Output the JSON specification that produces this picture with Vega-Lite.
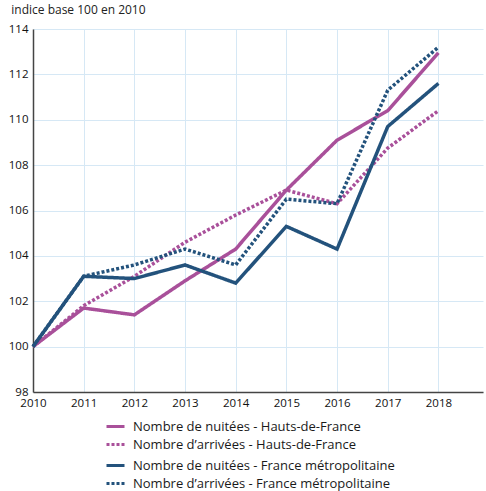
{
  "$schema": "https://vega.github.io/schema/vega-lite/v6.json",
  "width": 450,
  "height": 363,
  "padding": {"left": 8, "top": 4, "right": 2, "bottom": 0},
  "background": "white",
  "title": {
    "text": "indice base 100 en 2010",
    "anchor": "start",
    "frame": "bounds",
    "fontSize": 12,
    "fontWeight": "normal",
    "font": "Open Sans",
    "color": "#222222",
    "offset": 6,
    "dx": 3
  },
  "datasets": {
    "hdf": [
      {"annee": 2010, "serie": "Nombre de nuitées - Hauts-de-France", "indice": 100},
      {"annee": 2011, "serie": "Nombre de nuitées - Hauts-de-France", "indice": 101.7},
      {"annee": 2012, "serie": "Nombre de nuitées - Hauts-de-France", "indice": 101.4},
      {"annee": 2013, "serie": "Nombre de nuitées - Hauts-de-France", "indice": 102.9},
      {"annee": 2014, "serie": "Nombre de nuitées - Hauts-de-France", "indice": 104.3},
      {"annee": 2015, "serie": "Nombre de nuitées - Hauts-de-France", "indice": 106.9},
      {"annee": 2016, "serie": "Nombre de nuitées - Hauts-de-France", "indice": 109.1},
      {"annee": 2017, "serie": "Nombre de nuitées - Hauts-de-France", "indice": 110.4},
      {"annee": 2018, "serie": "Nombre de nuitées - Hauts-de-France", "indice": 112.95},
      {"annee": 2010, "serie": "Nombre d’arrivées - Hauts-de-France", "indice": 100},
      {"annee": 2011, "serie": "Nombre d’arrivées - Hauts-de-France", "indice": 101.8},
      {"annee": 2012, "serie": "Nombre d’arrivées - Hauts-de-France", "indice": 103.1},
      {"annee": 2013, "serie": "Nombre d’arrivées - Hauts-de-France", "indice": 104.6},
      {"annee": 2014, "serie": "Nombre d’arrivées - Hauts-de-France", "indice": 105.8},
      {"annee": 2015, "serie": "Nombre d’arrivées - Hauts-de-France", "indice": 106.9},
      {"annee": 2016, "serie": "Nombre d’arrivées - Hauts-de-France", "indice": 106.3},
      {"annee": 2017, "serie": "Nombre d’arrivées - Hauts-de-France", "indice": 108.75},
      {"annee": 2018, "serie": "Nombre d’arrivées - Hauts-de-France", "indice": 110.4}
    ],
    "fr": [
      {"annee": 2010, "serie": "Nombre de nuitées - France métropolitaine", "indice": 100},
      {"annee": 2011, "serie": "Nombre de nuitées - France métropolitaine", "indice": 103.1},
      {"annee": 2012, "serie": "Nombre de nuitées - France métropolitaine", "indice": 103.0},
      {"annee": 2013, "serie": "Nombre de nuitées - France métropolitaine", "indice": 103.6},
      {"annee": 2014, "serie": "Nombre de nuitées - France métropolitaine", "indice": 102.8},
      {"annee": 2015, "serie": "Nombre de nuitées - France métropolitaine", "indice": 105.3},
      {"annee": 2016, "serie": "Nombre de nuitées - France métropolitaine", "indice": 104.3},
      {"annee": 2017, "serie": "Nombre de nuitées - France métropolitaine", "indice": 109.7},
      {"annee": 2018, "serie": "Nombre de nuitées - France métropolitaine", "indice": 111.6},
      {"annee": 2010, "serie": "Nombre d’arrivées - France métropolitaine", "indice": 100},
      {"annee": 2011, "serie": "Nombre d’arrivées - France métropolitaine", "indice": 103.1},
      {"annee": 2012, "serie": "Nombre d’arrivées - France métropolitaine", "indice": 103.6},
      {"annee": 2013, "serie": "Nombre d’arrivées - France métropolitaine", "indice": 104.3},
      {"annee": 2014, "serie": "Nombre d’arrivées - France métropolitaine", "indice": 103.6},
      {"annee": 2015, "serie": "Nombre d’arrivées - France métropolitaine", "indice": 106.5},
      {"annee": 2016, "serie": "Nombre d’arrivées - France métropolitaine", "indice": 106.3},
      {"annee": 2017, "serie": "Nombre d’arrivées - France métropolitaine", "indice": 111.3},
      {"annee": 2018, "serie": "Nombre d’arrivées - France métropolitaine", "indice": 113.2}
    ]
  },
  "encoding": {
    "x": {
      "field": "annee",
      "type": "quantitative",
      "scale": {"domain": [2010, 2018.88], "nice": false, "zero": false},
      "axis": {
        "title": null,
        "values": [2010, 2011, 2012, 2013, 2014, 2015, 2016, 2017, 2018],
        "format": "d",
        "ticks": false,
        "labelPadding": 5,
        "labelFlush": false
      }
    },
    "y": {
      "field": "indice",
      "type": "quantitative",
      "scale": {"domain": [98, 114], "nice": false, "zero": false},
      "axis": {
        "title": null,
        "values": [98, 100, 102, 104, 106, 108, 110, 112, 114],
        "ticks": false,
        "labelPadding": 5
      }
    }
  },
  "layer": [
    {
      "data": {"name": "hdf"},
      "mark": {"type": "line", "strokeWidth": 3.5, "strokeCap": "butt", "strokeJoin": "miter"},
      "encoding": {
        "color": {
          "field": "serie",
          "type": "nominal",
          "scale": {
            "domain": ["Nombre de nuitées - Hauts-de-France", "Nombre d’arrivées - Hauts-de-France"],
            "range": ["#a9509a", "#a9509a"]
          },
          "legend": {"title": null, "orient": "none", "legendX": 72, "legendY": 387}
        },
        "strokeDash": {
          "field": "serie",
          "type": "nominal",
          "scale": {
            "domain": ["Nombre de nuitées - Hauts-de-France", "Nombre d’arrivées - Hauts-de-France"],
            "range": [[1, 0], [3, 2]]
          },
          "legend": {"title": null, "orient": "none", "legendX": 72, "legendY": 387}
        }
      }
    },
    {
      "data": {"name": "fr"},
      "mark": {"type": "line", "strokeWidth": 3.5, "strokeCap": "butt", "strokeJoin": "miter"},
      "encoding": {
        "color": {
          "field": "serie",
          "type": "nominal",
          "scale": {
            "domain": ["Nombre de nuitées - France métropolitaine", "Nombre d’arrivées - France métropolitaine"],
            "range": ["#23527c", "#23527c"]
          },
          "legend": {"title": null, "orient": "none", "legendX": 72, "legendY": 426}
        },
        "strokeDash": {
          "field": "serie",
          "type": "nominal",
          "scale": {
            "domain": ["Nombre de nuitées - France métropolitaine", "Nombre d’arrivées - France métropolitaine"],
            "range": [[1, 0], [3, 2]]
          },
          "legend": {"title": null, "orient": "none", "legendX": 72, "legendY": 426}
        }
      }
    }
  ],
  "resolve": {"scale": {"color": "independent", "strokeDash": "independent"}},
  "config": {
    "view": {"stroke": null},
    "font": "Open Sans",
    "axis": {
      "labelFont": "Open Sans",
      "labelFontSize": 11.5,
      "labelColor": "#111111",
      "gridColor": "#d6e8f5",
      "gridWidth": 1,
      "gridOpacity": 1,
      "domainColor": "#444444",
      "domainWidth": 1.5
    },
    "legend": {
      "labelFont": "Open Sans",
      "labelFontSize": 13,
      "labelColor": "#1a1a1a",
      "symbolType": "stroke",
      "symbolSize": 324,
      "symbolStrokeWidth": 3,
      "labelOffset": 7,
      "rowPadding": -1,
      "labelLimit": 400
    }
  }
}
